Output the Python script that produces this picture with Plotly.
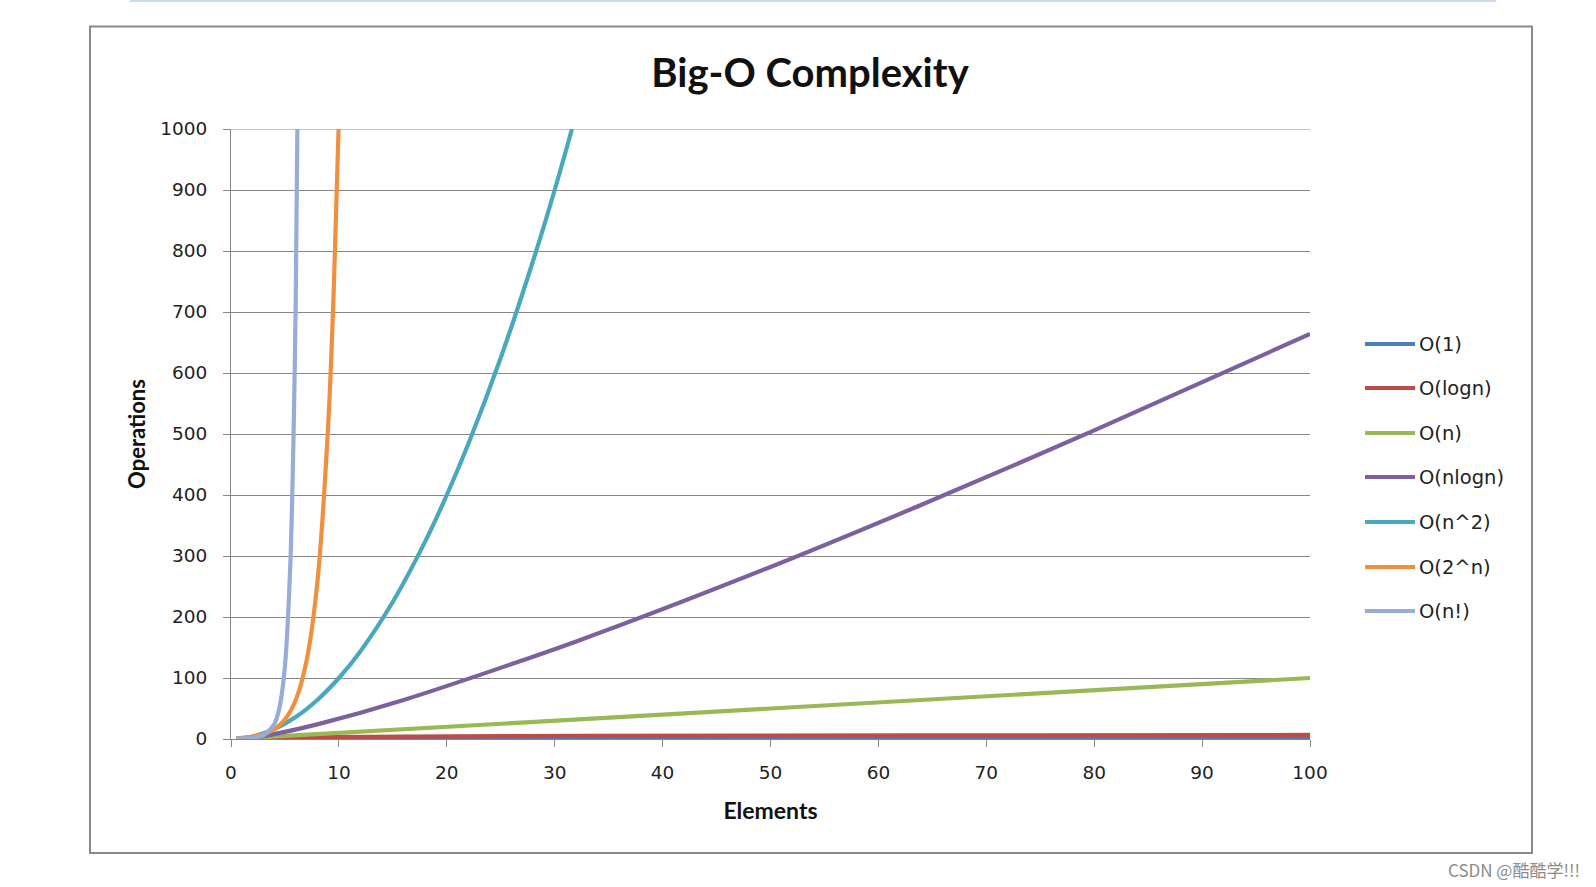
import plotly.graph_objects as go

# reference canvas size (all positions below are given in these pixels)
W, H = 1596, 887

# ---- data ----
series_names = ["O(1)", "O(logn)", "O(n)", "O(nlogn)", "O(n^2)", "O(2^n)", "O(n!)"]
series_colors = ["#4A7EBB", "#BE4B48", "#98B954", "#7D60A0", "#4AA8BE", "#F0903F", "#98ACD8"]

x_o1 = [0.5, 100]
y_o1 = [1, 1]

x_logn = [0.5, 1, 2, 4, 8, 16, 32, 64, 100]
y_logn = [0, 0, 1, 2, 3, 4, 5, 6, 6.6]

x_n = [0.5, 100]
y_n = [0.5, 100]

x_nlogn = [0.5, 1, 2, 4, 8, 16, 32, 50, 64, 80, 100]
y_nlogn = [0, 0, 2, 8, 24, 64, 160, 282, 384, 506, 664]

x_n2 = [0.5, 1, 2, 4, 6, 8, 10, 12, 15, 18, 20, 22, 25, 28, 30, 31.6]
y_n2 = [0.3, 1, 4, 16, 36, 64, 100, 144, 225, 324, 400, 484, 625, 784, 900, 1000]

x_2n = [0.5, 1, 2, 3, 4, 5, 6, 7, 8, 9, 9.5, 9.97]
y_2n = [1.4, 2, 4, 8, 16, 32, 64, 128, 256, 512, 724, 1000]

x_nf = [0.5, 1, 2, 3, 4, 4.5, 5, 5.5, 5.8, 6, 6.15]
y_nf = [0.9, 1, 2, 6, 24, 52, 120, 288, 500, 720, 1000]

x_ticks = [0, 10, 20, 30, 40, 50, 60, 70, 80, 90, 100]
y_ticks = [0, 100, 200, 300, 400, 500, 600, 700, 800, 900, 1000]

xs = [x_o1, x_logn, x_n, x_nlogn, x_n2, x_2n, x_nf]
ys = [y_o1, y_logn, y_n, y_nlogn, y_n2, y_2n, y_nf]

LW = 4.2

fig = go.Figure()
for name, color, xv, yv in zip(series_names, series_colors, xs, ys):
    fig.add_trace(go.Scatter(
        x=xv, y=yv, mode="lines", name=name,
        line=dict(color=color, width=LW, shape="spline", smoothing=0.8),
        showlegend=False, hoverinfo="x+y+name",
    ))


def px(x):
    return x / W


def py(y):
    return 1 - y / H


grid = "#878787"
tick_font = dict(family="DejaVu Sans", size=18.5, color="#222222")

fig.update_layout(
    autosize=True,
    showlegend=False,
    margin=dict(l=0, r=0, t=0, b=0, pad=0, autoexpand=False),
    paper_bgcolor="white", plot_bgcolor="white",
    title=dict(text="<b>Big-O Complexity</b>", x=px(810), y=py(73),
               xanchor="center", yanchor="middle",
               font=dict(family="Lato", size=40, color="#111111")),
    xaxis=dict(domain=[px(231), px(1310)], range=[0, 100], tickvals=x_ticks,
               automargin=False,
               showgrid=False, zeroline=False, showline=True, linecolor=grid, linewidth=1,
               ticks="outside", ticklen=7, tickcolor=grid, tickwidth=1,
               tickfont=tick_font, ticklabelstandoff=10,
               title=dict(text="<b>Elements</b>", standoff=20,
                          font=dict(family="Lato", size=23, color="#111111"))),
    yaxis=dict(domain=[py(739), py(129)], range=[0, 1000], tickvals=y_ticks,
               automargin=False,
               showgrid=True, gridcolor=grid, gridwidth=1, zeroline=False,
               showline=True, linecolor=grid, linewidth=1,
               ticks="outside", ticklen=7, tickcolor=grid, tickwidth=1,
               tickfont=tick_font, ticklabelstandoff=12,
               title=dict(text="<b>Operations</b>", standoff=8,
                          font=dict(family="Lato", size=22, color="#111111"))),
)

shapes = []
# top gridline (at the axis range edge)
shapes.append(dict(type="line", xref="x", yref="y", x0=0, x1=100, y0=1000, y1=1000,
                   line=dict(color=grid, width=1), layer="below"))
# chart border
shapes.append(dict(type="rect", xref="paper", yref="paper",
                   x0=px(90), x1=px(1532), y0=py(853), y1=py(26.5),
                   line=dict(color="#8A8A8A", width=2), fillcolor="rgba(0,0,0,0)", layer="below"))
# thin light-blue line at the very top of the screenshot
shapes.append(dict(type="line", xref="paper", yref="paper",
                   x0=px(130), x1=px(1496), y0=py(1), y1=py(1),
                   line=dict(color="#C9D9EF", width=2)))

# manual legend
annotations = []
legend_y = [344, 388, 433, 477, 522, 567, 611]
for name, color, ly in zip(series_names, series_colors, legend_y):
    shapes.append(dict(type="line", xref="paper", yref="paper",
                       x0=px(1365), x1=px(1415), y0=py(ly), y1=py(ly),
                       line=dict(color=color, width=LW)))
    annotations.append(dict(text=name, xref="paper", yref="paper", x=px(1417), y=py(ly),
                            xanchor="left", yanchor="middle", showarrow=False,
                            font=dict(family="DejaVu Sans", size=19.5, color="#222222")))

annotations.append(dict(text="CSDN @酷酷学!!!", xref="paper", yref="paper",
                        x=px(1582), y=py(869), xanchor="right", yanchor="middle",
                        showarrow=False,
                        font=dict(family="Noto Sans CJK SC", size=17, color="#8C8C8C")))

fig.update_layout(shapes=shapes, annotations=annotations)
fig.write_html(
    "out.html",
    default_width="100vw",
    default_height="100vh",
    config={"displayModeBar": False},
    post_script="document.body.style.margin='0';document.body.style.overflow='hidden';",
)
